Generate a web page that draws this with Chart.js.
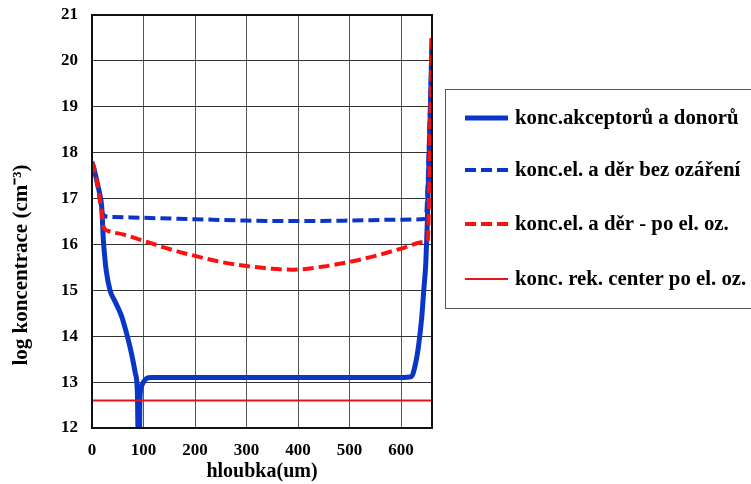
<!DOCTYPE html>
<html>
<head>
<meta charset="utf-8">
<script src="https://cdn.jsdelivr.net/npm/chart.js@4/dist/chart.umd.min.js"></script>
<style>
    body { margin: 0; background: #fff; }
    #wrap { width: 751px; height: 484px; }
</style>
</head>
<body>
<div id="wrap"><canvas id="myChart" width="751" height="484"></canvas></div>
<script>
    // depth in um, log of concentration
    var akcDepth = [0, 5, 10, 15, 19, 22, 25, 28, 35, 45, 57, 65, 72, 78, 84, 88, 90, 92, 93, 96, 100, 106, 115, 200, 400, 600, 620, 628, 634, 640, 644, 648, 651, 654, 657, 660];
    var akcLog = [17.8, 17.6, 17.35, 17.1, 16.8, 16.1, 15.7, 15.4, 15.0, 14.75, 14.45, 14.15, 13.85, 13.55, 13.2, 12.8, 11.5, 11.5, 12.6, 12.9, 13.0, 13.08, 13.1, 13.1, 13.1, 13.1, 13.12, 13.4, 13.8, 14.4, 15.0, 15.6, 16.5, 17.8, 19.0, 20.5];

    var bezDepth = [0, 5, 10, 15, 20, 24, 40, 100, 200, 300, 400, 500, 600, 648, 652, 656, 660];
    var bezLog = [17.8, 17.6, 17.35, 17.0, 16.7, 16.62, 16.6, 16.58, 16.55, 16.52, 16.51, 16.52, 16.54, 16.56, 17.5, 19.0, 20.5];

    var poDepth = [0, 5, 10, 15, 19, 22, 30, 60, 100, 150, 200, 250, 300, 350, 390, 450, 500, 550, 600, 646, 652, 655, 658, 660];
    var poLog = [17.8, 17.6, 17.35, 17.0, 16.7, 16.4, 16.3, 16.22, 16.08, 15.9, 15.75, 15.62, 15.53, 15.47, 15.45, 15.52, 15.62, 15.75, 15.91, 16.06, 16.1, 17.5, 19.5, 20.5];

    var rekDepth = [0, 660];
    var rekLog = [12.6, 12.6];

    var seriesNames = ['konc.akceptorů a donorů', 'konc.el. a děr bez ozáření', 'konc.el. a děr - po el. oz.', 'konc. rek. center po el. oz.'];
    var xTicks = [0, 100, 200, 300, 400, 500, 600];
    var yTicks = [12, 13, 14, 15, 16, 17, 18, 19, 20, 21];

    function pts(xs, ys) {
        return xs.map(function (x, i) { return { x: x, y: ys[i] }; });
    }

    var serif = "'Liberation Serif', 'Times New Roman', serif";

    // frame round the plot, y title and a boxed legend on the right
    var framePlugin = {
        id: 'frame',
        afterDraw: function (chart) {
            var c = chart.ctx, a = chart.chartArea;
            c.save();
            c.strokeStyle = '#111';
            c.lineWidth = 2;
            c.strokeRect(a.left, a.top, a.right - a.left, a.bottom - a.top);

            // y axis title sits a bit below the middle in the original
            c.save();
            c.translate(22, 265);
            c.rotate(-Math.PI / 2);
            c.fillStyle = '#000';
            c.font = 'bold 21px ' + serif;
            c.textAlign = 'center';
            c.textBaseline = 'middle';
            c.fillText('log koncentrace (cm⁻³)', 0, 0);
            c.restore();

            c.strokeStyle = '#555';
            c.lineWidth = 1;
            c.strokeRect(445.5, 89.5, 320, 219);

            var rows = [118, 170, 224, 279];
            chart.data.datasets.forEach(function (ds, i) {
                c.beginPath();
                c.strokeStyle = ds.borderColor;
                c.lineWidth = ds.borderWidth;
                c.setLineDash(ds.borderDash || []);
                c.moveTo(465, rows[i]);
                c.lineTo(508, rows[i]);
                c.stroke();
                c.setLineDash([]);
                c.fillStyle = '#000';
                c.font = 'bold 20.8px ' + serif;
                c.textBaseline = 'middle';
                c.fillText(seriesNames[i], 515, rows[i] + 1);
            });
            c.restore();
        }
    };

    var ctx = document.getElementById('myChart').getContext('2d');
    var chart = new Chart(ctx, {
        type: 'line',
        data: {
            datasets: [{
                label: seriesNames[0],
                data: pts(akcDepth, akcLog),
                borderColor: '#0a36c8',
                borderWidth: 5,
                order: 3
            }, {
                label: seriesNames[1],
                data: pts(bezDepth, bezLog),
                borderColor: '#0a36c8',
                borderWidth: 4,
                borderDash: [11, 5],
                order: 2
            }, {
                label: seriesNames[2],
                data: pts(poDepth, poLog),
                borderColor: '#ff1010',
                borderWidth: 4,
                borderDash: [11, 5],
                order: 1
            }, {
                label: seriesNames[3],
                data: pts(rekDepth, rekLog),
                borderColor: '#e8141c',
                borderWidth: 2,
                order: 0
            }]
        },
        options: {
            responsive: false,
            animation: false,
            layout: { padding: { top: 0, right: 319, bottom: 0, left: 0 } },
            elements: {
                point: { radius: 0 },
                line: { cubicInterpolationMode: 'monotone', fill: false }
            },
            plugins: {
                legend: { display: false },
                tooltip: { enabled: false }
            },
            scales: {
                x: {
                    type: 'linear',
                    min: 0,
                    max: 660,
                    afterBuildTicks: function (scale) {
                        scale.ticks = xTicks.map(function (v) { return { value: v }; });
                    },
                    afterFit: function (scale) { scale.height = 56; },
                    grid: { color: '#555', lineWidth: 1, drawTicks: false },
                    border: { display: false },
                    ticks: { padding: 12, color: '#000', font: { family: serif, size: 17, weight: 'bold' } },
                    title: {
                        display: true,
                        text: 'hloubka(um)',
                        color: '#000',
                        padding: { top: 0, bottom: 0 },
                        font: { family: serif, size: 20, weight: 'bold' }
                    }
                },
                y: {
                    min: 12,
                    max: 21,
                    afterBuildTicks: function (scale) {
                        scale.ticks = yTicks.map(function (v) { return { value: v }; });
                    },
                    afterFit: function (scale) {
                        scale.width = 92;
                        scale.paddingTop = 15;
                        scale.paddingBottom = 0;
                    },
                    grid: { color: '#333', lineWidth: 1, drawTicks: false },
                    border: { display: false },
                    ticks: { padding: 14, color: '#000', font: { family: serif, size: 17, weight: 'bold' } }
                }
            }
        },
        plugins: [framePlugin]
    });
</script>
</body>
</html>
